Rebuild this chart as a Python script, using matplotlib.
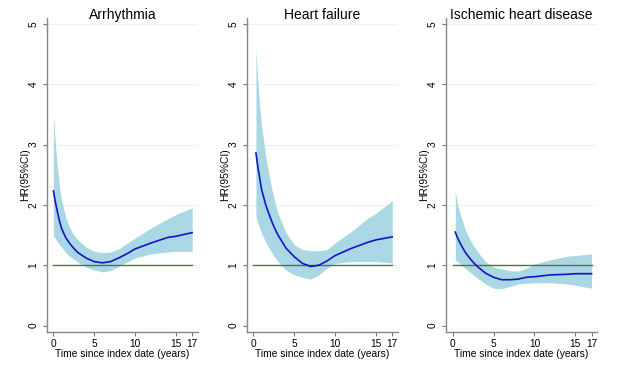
import matplotlib.pyplot as plt

plt.rcParams['font.family'] = ['Liberation Sans', 'DejaVu Sans']

titles = ["Arrhythmia", "Heart failure", "Ischemic heart disease"]

# time points (years) and HR estimates
arr_t = [0, 0.25, 0.5, 0.75, 1, 1.5, 2, 2.5, 3, 4, 5, 6, 7, 8, 9, 10, 12, 14, 15, 17]
arr_hr = [2.23, 2.04, 1.88, 1.73, 1.61, 1.46, 1.36, 1.28, 1.21, 1.12, 1.06, 1.04, 1.06, 1.12, 1.19, 1.27, 1.37, 1.46, 1.48, 1.54]
arr_hi = [3.5, 3.0, 2.6, 2.3, 2.08, 1.8, 1.62, 1.5, 1.42, 1.3, 1.23, 1.21, 1.22, 1.27, 1.36, 1.45, 1.62, 1.77, 1.84, 1.95]
arr_lo = [1.48, 1.44, 1.39, 1.34, 1.3, 1.21, 1.15, 1.1, 1.05, 0.97, 0.92, 0.89, 0.91, 0.98, 1.05, 1.12, 1.19, 1.22, 1.23, 1.23]

hf_t = [0.3, 0.5, 0.75, 1, 1.5, 2, 2.5, 3, 4, 5, 6, 7, 8, 9, 10, 12, 14, 15, 17]
hf_hr = [2.86, 2.66, 2.45, 2.25, 2.0, 1.81, 1.64, 1.5, 1.28, 1.14, 1.03, 0.98, 1.0, 1.07, 1.16, 1.28, 1.38, 1.42, 1.47]
hf_hi = [4.6, 4.1, 3.65, 3.3, 2.8, 2.42, 2.1, 1.86, 1.53, 1.34, 1.26, 1.24, 1.24, 1.26, 1.37, 1.56, 1.78, 1.86, 2.07]
hf_lo = [1.81, 1.72, 1.62, 1.53, 1.38, 1.26, 1.15, 1.06, 0.92, 0.84, 0.8, 0.77, 0.84, 0.95, 1.03, 1.06, 1.06, 1.06, 1.04]

ihd_t = [0.3, 0.6, 1, 1.5, 2, 2.5, 3, 4, 5, 6, 7, 8, 9, 10, 12, 14, 15, 17]
ihd_hr = [1.55, 1.45, 1.34, 1.22, 1.13, 1.05, 0.98, 0.87, 0.8, 0.76, 0.76, 0.77, 0.8, 0.81, 0.84, 0.85, 0.86, 0.86]
ihd_hi = [2.22, 2.0, 1.81, 1.6, 1.45, 1.33, 1.23, 1.06, 0.97, 0.94, 0.91, 0.9, 0.95, 1.02, 1.09, 1.15, 1.16, 1.19]
ihd_lo = [1.09, 1.06, 1.01, 0.95, 0.9, 0.84, 0.79, 0.69, 0.62, 0.61, 0.65, 0.69, 0.7, 0.71, 0.71, 0.69, 0.67, 0.62]

panels = [
    (arr_t, arr_hr, arr_hi, arr_lo),
    (hf_t, hf_hr, hf_hi, hf_lo),
    (ihd_t, ihd_hr, ihd_hi, ihd_lo),
]

xticks = [0, 5, 10, 15, 17]
yticks = [0, 1, 2, 3, 4, 5]
ref_x = [0, 17]
ref_y = [1, 1]

fig = plt.figure(figsize=(6.17, 3.79), dpi=100)
lefts = [0.0757, 0.400, 0.723]

for left, title, (t, hr, hi, lo) in zip(lefts, titles, panels):
    ax = fig.add_axes([left, 0.125, 0.245, 0.828])
    for y in yticks[1:]:
        ax.axhline(y, color="#eaf2f4", lw=0.8, zorder=0)
    ax.fill_between(t, lo, hi, color="#a9d7e3", lw=0, zorder=1)
    ax.plot(ref_x, ref_y, color="#4e7a2a", lw=1.0, zorder=2)
    ax.plot(t, hr, color="#1414c8", lw=1.2, zorder=3)

    ax.set_xlim(-0.82, 17.7)
    ax.set_ylim(-0.1, 5.1)
    ax.set_xticks(xticks)
    ax.set_yticks(yticks)
    ax.tick_params(axis="y", labelrotation=90, labelsize=7.3, length=3,
                   color="#777777", pad=3)
    ax.tick_params(axis="x", labelsize=7.3, length=3, color="#777777", pad=2)
    for lab in ax.get_yticklabels():
        lab.set_verticalalignment("center")
    for side in ["top", "right"]:
        ax.spines[side].set_visible(False)
    for side in ["left", "bottom"]:
        ax.spines[side].set_color("#888888")
        ax.spines[side].set_linewidth(1.0)

    ax.set_xlabel("Time since index date (years)", fontsize=7.4, labelpad=0)
    ax.set_ylabel("HR(95%CI)", fontsize=7.4, labelpad=-1)
    ax.text(0.5, 1.01, title, transform=ax.transAxes, ha="center", va="center",
            fontsize=10)

fig.savefig("out.png", dpi=100, facecolor="white")
